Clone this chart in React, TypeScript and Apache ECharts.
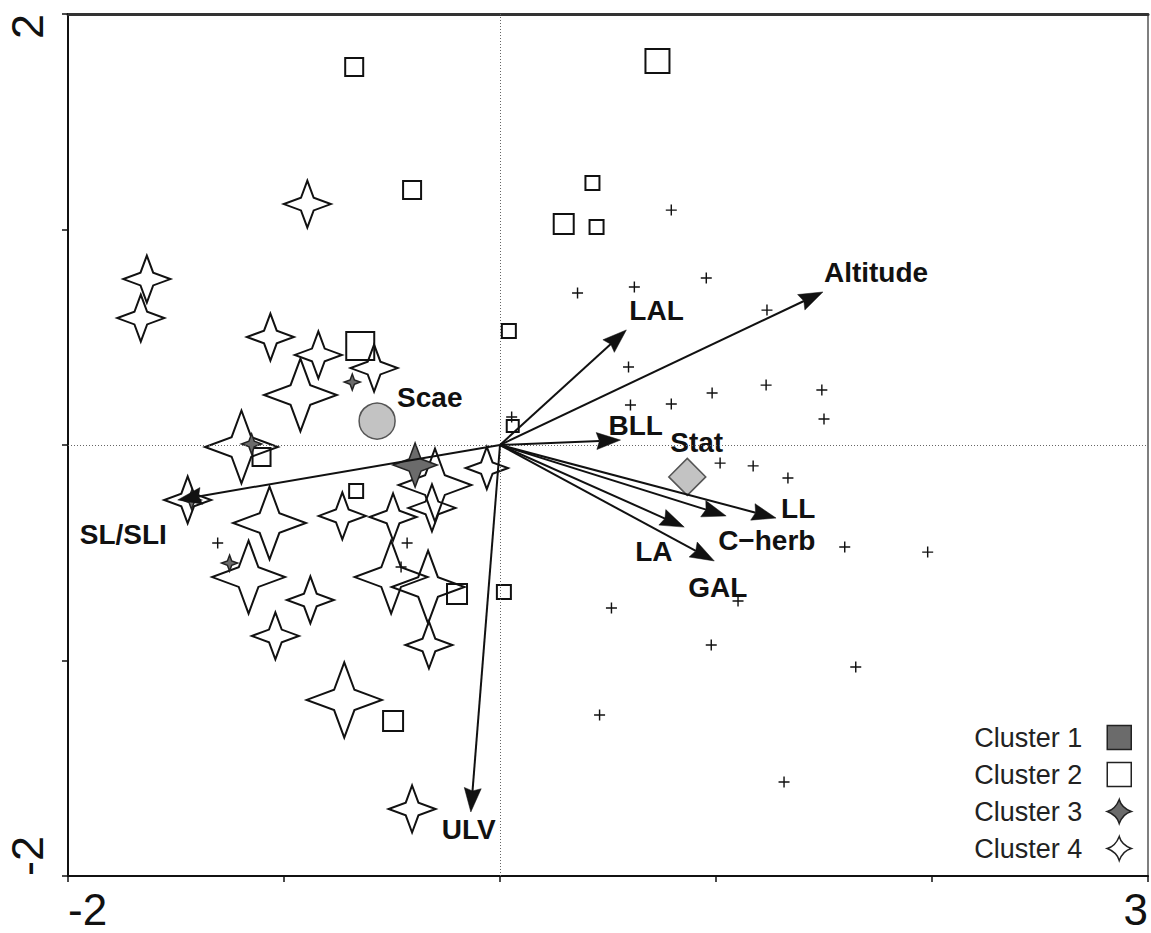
import React, { useEffect, useRef } from 'react';
import * as echarts from 'echarts';

const FONT = '"Liberation Sans", Arial, Helvetica, sans-serif';

// axis setup
const X_RANGE = [-2, 3];
const Y_RANGE = [-2, 2];
const X_TICK_LABELS = [-2, 3];
const Y_TICK_LABELS = [-2, 2];

const CLUSTER_NAMES = ['Cluster 1', 'Cluster 2', 'Cluster 3', 'Cluster 4'];

// [x, y] – cluster 1 sites (plotted as small crosses)
const CLUSTER1: number[][] = [
  [0.793, 1.09], [0.359, 0.705], [0.622, 0.733], [0.955, 0.775], [1.236, 0.626],
  [0.595, 0.362], [1.232, 0.278], [1.49, 0.255], [0.982, 0.241], [0.604, 0.186],
  [0.793, 0.19], [1.5, 0.121], [0.054, 0.13], [1.019, -0.084], [1.172, -0.097],
  [1.333, -0.153], [1.596, -0.473], [1.98, -0.497], [1.102, -0.724], [0.516, -0.756],
  [0.978, -0.928], [1.647, -1.03], [0.461, -1.253], [1.315, -1.564],
  [-1.307, -0.455], [-0.43, -0.455], [-0.458, -0.566],
];

// [x, y, relative weight]
const CLUSTER2: number[][] = [
  [-0.675, 1.754, 0.9], [0.729, 1.782, 1.2], [-0.407, 1.183, 0.9], [0.428, 1.216, 0.7],
  [0.295, 1.026, 1.0], [0.447, 1.012, 0.7], [0.041, 0.529, 0.7], [-0.647, 0.459, 1.4],
  [0.059, 0.088, 0.6], [-1.104, -0.056, 0.9], [-0.666, -0.213, 0.7], [-0.199, -0.691, 1.0],
  [0.018, -0.682, 0.7], [-0.495, -1.281, 1.0],
];

const CLUSTER3: number[][] = [
  [-0.393, -0.093, 0.94], [-0.684, 0.292, 0.34], [-1.15, 0.005, 0.43],
  [-1.252, -0.548, 0.34], [-1.428, -0.255, 0.4],
];

const CLUSTER4: number[][] = [
  [-1.635, 0.77, 1], [-1.663, 0.589, 1], [-1.063, 0.501, 1], [-0.841, 0.418, 1],
  [-0.583, 0.357, 1], [-0.924, 0.232, 1.55], [-1.197, -0.009, 1.55], [-0.892, 1.118, 1],
  [-1.446, -0.255, 1], [-1.067, -0.362, 1.55], [-0.73, -0.329, 1], [-0.495, -0.334, 1],
  [-0.301, -0.186, 1.55], [-0.315, -0.292, 1], [-0.061, -0.107, 0.9], [-1.164, -0.613, 1.55],
  [-0.878, -0.719, 1], [-1.04, -0.886, 1], [-0.504, -0.613, 1.55], [-0.333, -0.659, 1.55],
  [-0.329, -0.928, 1], [-0.721, -1.183, 1.6], [-0.407, -1.689, 1],
];

const CENTROID_NAMES = ['Scae', 'Stat'];
const CENTROIDS: number[][] = [[-0.569, 0.111], [0.867, -0.148]];

const VECTOR_NAMES = ['Altitude', 'LAL', 'BLL', 'LL', 'C\u2212herb', 'LA', 'GAL', 'ULV', 'SL/SLI'];
const VECTOR_ENDS: number[][] = [
  [1.495, 0.71], [0.585, 0.534], [0.558, 0.023], [1.278, -0.339], [1.047, -0.329],
  [0.853, -0.381], [0.992, -0.538], [-0.135, -1.703], [-1.492, -0.255],
];

// ---- styles ----
const STAR = 'path://M0,-10 Q1.8,-3.2 10,0 Q3.2,1.8 0,10 Q-1.8,3.2 -10,0 Q-3.2,-1.8 0,-10 Z';
const STAR_SYM = 'path://M0,-10 L2.7,-2.7 L10,0 L2.7,2.7 L0,10 L-2.7,2.7 L-10,0 L-2.7,-2.7 Z';
const PLUS = 'path://M-1.3,-10H1.3V-1.3H10V1.3H1.3V10H-1.3V1.3H-10V-1.3H-1.3Z';
const SQUARE_BASE = 20;
const STAR_BASE = 47;
const DARK = '#6b6b6b';
const ARROW_LEN = 24;
const ARROW_HALF = 8.5;
const VECTOR_LABEL_OFFSET: Record<string, number[]> = {
  Altitude: [1, -19], LAL: [3, -19], BLL: [-12, -15], LL: [5, -10], 'C\u2212herb': [-8, 25],
  LA: [-49, 24], GAL: [-26, 27], ULV: [-29, 18], 'SL/SLI': [-98, 35],
};
const CENTROID_STYLE: Record<string, any> = {
  Scae: { symbol: 'circle', size: 36, offset: [20, -24] },
  Stat: { symbol: 'diamond', size: 37, offset: [-17, -34] },
};

export default function App() {
  const ref = useRef<HTMLDivElement>(null);
  useEffect(() => {
    if (!ref.current) return;
    const chart = echarts.init(ref.current, null, { renderer: 'svg' });
    const tickFmt = (list: number[]) => (v: number) => (list.includes(Math.round(v * 1000) / 1000) ? String(v) : '');
    const option: any = {
      animation: false,
      backgroundColor: '#fff',
      grid: { left: 68, right: 1, top: 14, bottom: 57, show: true, borderColor: '#555', borderWidth: 1.5 },
      xAxis: [
        {
          type: 'value', min: X_RANGE[0], max: X_RANGE[1], interval: 1,
          axisLine: { show: true, onZero: false, lineStyle: { color: '#111', width: 2 } },
          axisTick: { show: true, inside: false, length: 6, lineStyle: { color: '#111', width: 1.5 } },
          splitLine: { show: false },
          axisLabel: {
            show: true, margin: 11, fontSize: 44, color: '#111', fontFamily: FONT,
            formatter: tickFmt(X_TICK_LABELS), alignMinLabel: 'left', alignMaxLabel: 'right',
          },
        },
        {
          type: 'value', position: 'top', min: X_RANGE[0], max: X_RANGE[1],
          axisLine: { show: true, onZero: false, lineStyle: { color: '#333', width: 3 } },
          axisTick: { show: false }, axisLabel: { show: false }, splitLine: { show: false },
        },
      ],
      yAxis: {
        type: 'value', min: Y_RANGE[0], max: Y_RANGE[1], interval: 1,
        axisLine: { show: true, onZero: false, lineStyle: { color: '#111', width: 2 } },
        axisTick: { show: true, inside: false, length: 6, lineStyle: { color: '#111', width: 1.5 } },
        splitLine: { show: false },
        axisLabel: {
          show: true, rotate: 90, margin: 18, fontSize: 45, color: '#111', fontFamily: FONT,
          formatter: tickFmt(Y_TICK_LABELS), alignMinLabel: 'left', alignMaxLabel: 'right',
        },
      },
      legend: {
        orient: 'vertical', right: 14, bottom: 66, align: 'right',
        itemWidth: 24, itemHeight: 24, itemGap: 10, selectedMode: false,
        textStyle: { fontSize: 27, color: '#222', fontFamily: FONT, padding: [0, 20, 0, 0] },
        data: [
          { name: CLUSTER_NAMES[0], icon: 'rect', itemStyle: { color: DARK, borderColor: '#222', borderWidth: 1.5 } },
          { name: CLUSTER_NAMES[1], icon: 'rect', itemStyle: { color: '#fff', borderColor: '#222', borderWidth: 1.5 } },
          { name: CLUSTER_NAMES[2], icon: STAR, itemStyle: { color: DARK, borderColor: '#222', borderWidth: 1.5 } },
          { name: CLUSTER_NAMES[3], icon: STAR, itemStyle: { color: '#fff', borderColor: '#222', borderWidth: 1.5 } },
        ],
      },
      series: [
        {
          name: 'axes0', type: 'scatter', data: [], z: 1,
          markLine: {
            silent: true, symbol: 'none', label: { show: false },
            lineStyle: { type: [1, 2], color: '#666', width: 1 },
            emphasis: { disabled: true },
            data: [{ xAxis: 0 }, { yAxis: 0 }],
          },
        },
        {
          name: CLUSTER_NAMES[0], type: 'scatter', data: CLUSTER1, symbol: PLUS, symbolSize: 11, z: 3,
          itemStyle: { color: '#111', borderWidth: 0, opacity: 1 },
        },
        {
          name: CLUSTER_NAMES[1], type: 'scatter', data: CLUSTER2, symbol: 'rect', z: 3,
          symbolSize: (v: number[]) => SQUARE_BASE * v[2],
          itemStyle: { color: 'rgba(255,255,255,0)', borderColor: '#111', borderWidth: 2, opacity: 1 },
        },
        {
          name: CLUSTER_NAMES[3], type: 'scatter', data: CLUSTER4, symbol: STAR_SYM, z: 3,
          symbolSize: (v: number[]) => STAR_BASE * v[2],
          itemStyle: { color: 'rgba(255,255,255,0)', borderColor: '#111', borderWidth: 2, opacity: 1 },
        },
        {
          name: CLUSTER_NAMES[2], type: 'scatter', data: CLUSTER3, symbol: STAR_SYM, z: 4,
          symbolSize: (v: number[]) => STAR_BASE * v[2],
          itemStyle: { color: DARK, borderColor: '#222', borderWidth: 1.5, opacity: 1 },
        },
        {
          name: 'centroids', type: 'scatter', z: 4,
          data: CENTROIDS.map((p, i) => ({
            name: CENTROID_NAMES[i], value: p,
            symbol: CENTROID_STYLE[CENTROID_NAMES[i]].symbol,
            symbolSize: CENTROID_STYLE[CENTROID_NAMES[i]].size,
            label: { offset: CENTROID_STYLE[CENTROID_NAMES[i]].offset },
          })),
          itemStyle: { color: '#c3c3c3', borderColor: '#555', borderWidth: 1.5, opacity: 1 },
          label: {
            show: true, position: 'inside', align: 'left', verticalAlign: 'middle',
            formatter: '{b}', fontSize: 28, fontWeight: 'bold', color: '#111', fontFamily: FONT,
          },
        },
        {
          name: 'vectors', type: 'custom', coordinateSystem: 'cartesian2d', clip: false, z: 6,
          data: VECTOR_ENDS.map((p, i) => ({ name: VECTOR_NAMES[i], value: p })),
          renderItem: (params: any, api: any) => {
            const o = api.coord([0, 0]);
            const e = api.coord([api.value(0), api.value(1)]);
            const dx = e[0] - o[0];
            const dy = e[1] - o[1];
            const len = Math.hypot(dx, dy) || 1;
            const ux = dx / len, uy = dy / len;
            const nx = -uy, ny = ux;
            const bx = e[0] - ux * ARROW_LEN, by = e[1] - uy * ARROW_LEN;
            const name = VECTOR_NAMES[params.dataIndex];
            const off = VECTOR_LABEL_OFFSET[name] || [4, 0];
            return {
              type: 'group',
              children: [
                {
                  type: 'line',
                  shape: { x1: o[0], y1: o[1], x2: bx + ux * 3, y2: by + uy * 3 },
                  style: { stroke: '#111', lineWidth: 2 },
                },
                {
                  type: 'polygon',
                  shape: {
                    points: [
                      [e[0], e[1]],
                      [bx + nx * ARROW_HALF, by + ny * ARROW_HALF],
                      [e[0] - ux * ARROW_LEN * 0.88, e[1] - uy * ARROW_LEN * 0.88],
                      [bx - nx * ARROW_HALF, by - ny * ARROW_HALF],
                    ],
                  },
                  style: { fill: '#111', stroke: '#111', lineWidth: 0.5 },
                },
                {
                  type: 'text', x: e[0] + off[0], y: e[1] + off[1],
                  style: {
                    text: name, fill: '#111', fontSize: 28, fontWeight: 'bold', fontFamily: FONT,
                    align: 'left', verticalAlign: 'middle',
                  },
                },
              ],
            };
          },
        },
      ],
    };
    chart.setOption(option);
    return () => chart.dispose();
  }, []);
  return <div ref={ref} style={{ position: 'absolute', left: 0, top: 0, width: 1151, height: 933 }} />;
}
